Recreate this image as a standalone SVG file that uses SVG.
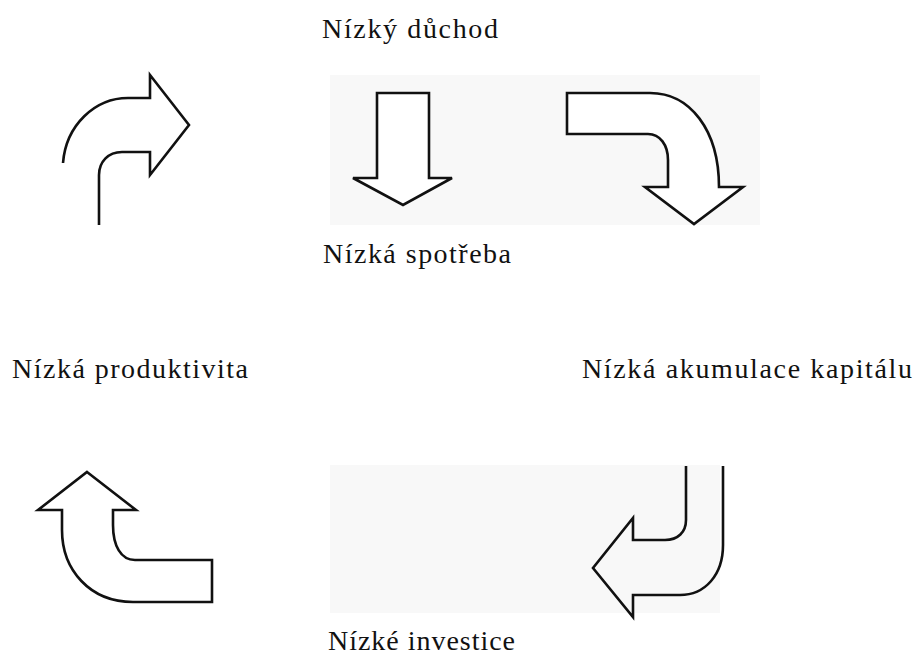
<svg xmlns="http://www.w3.org/2000/svg" width="918" height="656" viewBox="0 0 918 656">
<style>
.lbl{font-family:"Liberation Serif","Times New Roman",serif;font-size:28px;fill:#111}
.arr{fill:none;stroke:#111;stroke-width:2.6;stroke-linejoin:miter;stroke-linecap:butt}
.fill{fill:#fff}
.bg{fill:#f8f8f8}
</style>
<rect width="918" height="656" fill="#ffffff"/>
<rect class="bg" x="330" y="75" width="430" height="150"/>
<rect class="bg" x="330" y="465" width="390" height="148"/>
<g id="t1"><text class="lbl" x="322" y="38" textLength="176" lengthAdjust="spacing">Nízký důchod</text></g>
<g id="t2"><text class="lbl" x="323" y="263" textLength="188" lengthAdjust="spacing">Nízká spotřeba</text></g>
<g id="t3"><text class="lbl" x="12" y="378" textLength="236" lengthAdjust="spacing">Nízká produktivita</text></g>
<g id="t4"><text class="lbl" x="582" y="378" textLength="330" lengthAdjust="spacing">Nízká akumulace kapitálu</text></g>
<g id="t5"><text class="lbl" x="328" y="650" textLength="187" lengthAdjust="spacing">Nízké investice</text></g>
<g id="connectors">
<path class="arr" d="M63,163 C66,125 95,98 128,98 L150,98 L150,75 L189,125 L150,175 L150,152 L122,152 C108,152 99,162 99,175 L99,225"/>
<path class="arr fill" d="M377,93 L429,93 L429,178 L452,178 L403,205 L353,178 L377,178 Z"/>
<path class="arr fill" d="M567,93 L650,93 C690,93 719,130 719,187 L743,187 L694,224 L645,187 L668,187 L668,160 C668,145 660,134 648,134 L567,134 Z"/>
<path class="arr fill" d="M87,472 L136,510 L113,510 L113,525 C113,546 121,560 135,560 L212,560 L212,602 L133,602 C90,602 62,570 62,530 L62,510 L38,510 Z"/>
<path class="arr" d="M686,466 L686,520 C686,532 678,540 665,540 L633,540 L633,518 L593,568 L633,617 L633,595 L680,595 C705,595 723,575 723,545 L723,466"/>
</g>
</svg>
